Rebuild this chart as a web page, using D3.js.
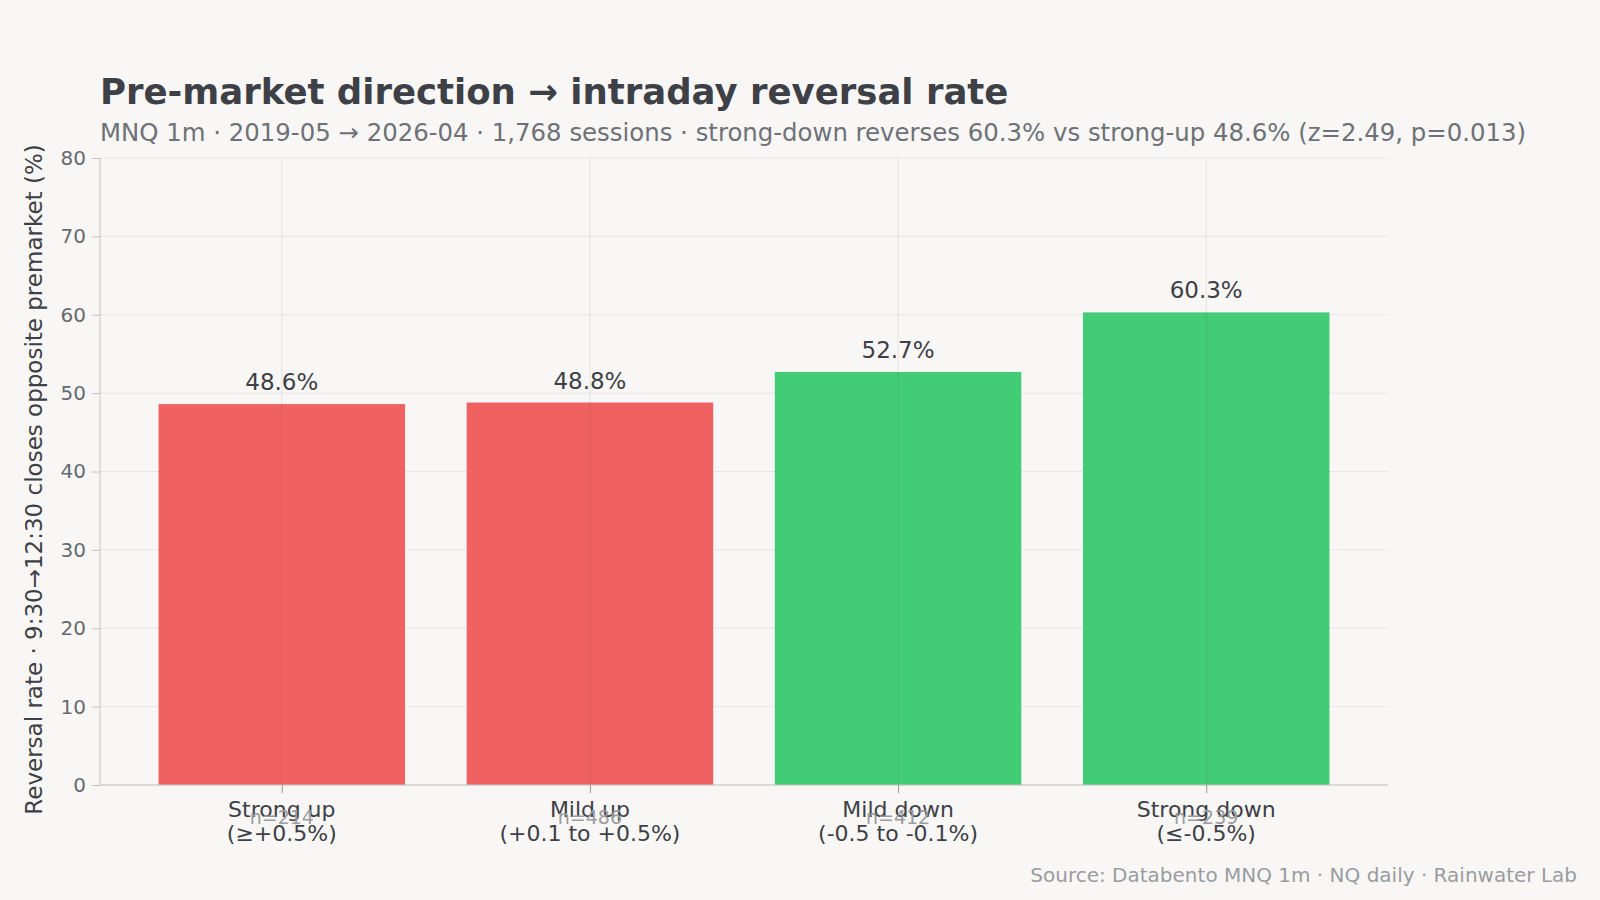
<!DOCTYPE html>
<html>
<head>
<meta charset="utf-8">
<script src="https://cdn.jsdelivr.net/npm/d3@7"></script>
<style>
  body { margin: 0; background: #f8f7f5; font-family: "DejaVu Sans", sans-serif; }
</style>
</head>
<body>
<svg id="chart" width="1600" height="900"></svg>
<script>
// chart data
var categories = ["Strong up", "Mild up", "Mild down", "Strong down"];
var ranges = ["(≥+0.5%)", "(+0.1 to +0.5%)", "(-0.5 to -0.1%)", "(≤-0.5%)"];
var rates = [48.6, 48.8, 52.7, 60.3];
var counts = [214, 486, 412, 239];
var barColors = ["#f06262", "#f06262", "#43cc76", "#43cc76"];
var yTicks = [0, 10, 20, 30, 40, 50, 60, 70, 80];

var svg = d3.select("#chart");
var plotLeft = 100, plotRight = 1388, plotTop = 158, plotBottom = 785;

var x = d3.scaleLinear().domain([-0.59, 3.59]).range([plotLeft, plotRight]);
var y = d3.scaleLinear().domain([0, 80]).range([plotBottom, plotTop]);

// grid
svg.selectAll(".hgrid").data(yTicks).enter().append("line")
  .attr("x1", plotLeft).attr("x2", plotRight)
  .attr("y1", d => y(d)).attr("y2", d => y(d))
  .attr("stroke", "#e8e7e5").attr("stroke-width", 1);

// bars
svg.selectAll(".bar").data(rates).enter().append("rect")
  .attr("x", (d, i) => x(i - 0.4))
  .attr("width", x(0.8) - x(0))
  .attr("y", d => y(d))
  .attr("height", d => plotBottom - y(d))
  .attr("fill", (d, i) => barColors[i]);

// vertical grid at categories, faint over bars
svg.selectAll(".vgrid").data(categories).enter().append("line")
  .attr("x1", (d, i) => x(i)).attr("x2", (d, i) => x(i))
  .attr("y1", plotTop).attr("y2", plotBottom)
  .attr("stroke", "#000").attr("stroke-opacity", 0.08);

// value labels
svg.selectAll(".val").data(rates).enter().append("text")
  .attr("x", (d, i) => x(i)).attr("y", d => y(d) - 14)
  .attr("text-anchor", "middle").attr("font-size", 23).attr("fill", "#3d4046")
  .text(d => d.toFixed(1) + "%");

// axes
var yAxis = svg.append("g").attr("transform", "translate(" + plotLeft + ",0)")
  .call(d3.axisLeft(y).tickValues(yTicks).tickSize(8).tickPadding(6));
yAxis.select(".domain").attr("stroke", "#c4c4c4").attr("d", "M0," + plotBottom + "V" + plotTop);
yAxis.selectAll(".tick line").attr("stroke", "#c4c4c4");
yAxis.selectAll("text").attr("font-size", 20).attr("fill", "#666a70").attr("font-family", "DejaVu Sans");

var xAxis = svg.append("g").attr("transform", "translate(0," + plotBottom + ")")
  .call(d3.axisBottom(x).tickValues([0, 1, 2, 3]).tickSize(8).tickFormat(""));
xAxis.select(".domain").attr("stroke", "#c4c4c4").attr("d", "M" + plotLeft + ",0H" + plotRight);
xAxis.selectAll(".tick line").attr("stroke", "#999");

// category labels with n counts
categories.forEach(function (c, i) {
  var t = svg.append("text").attr("text-anchor", "middle")
    .attr("font-size", 22).attr("fill", "#3d4046");
  t.append("tspan").attr("x", x(i)).attr("y", plotBottom + 32).text(c);
  t.append("tspan").attr("x", x(i)).attr("y", plotBottom + 56).text(ranges[i]);
  svg.append("text").attr("x", x(i)).attr("y", plotBottom + 39)
    .attr("text-anchor", "middle").attr("font-size", 19).attr("fill", "#9a9ca0")
    .text("n=" + counts[i]);
});

// y label
svg.append("text")
  .attr("transform", "translate(42," + ((plotTop + plotBottom) / 2 + 8) + ") rotate(-90)")
  .attr("text-anchor", "middle").attr("font-size", 23).attr("fill", "#3d4046")
  .text("Reversal rate · 9:30→12:30 closes opposite premarket (%)");

// titles
svg.append("text").attr("x", plotLeft).attr("y", 104)
  .attr("font-size", 35.5).attr("font-weight", "bold").attr("fill", "#3d4046")
  .text("Pre-market direction → intraday reversal rate");
svg.append("text").attr("x", plotLeft).attr("y", 141)
  .attr("font-size", 24.4).attr("fill", "#6e7177")
  .text("MNQ 1m · 2019-05 → 2026-04 · 1,768 sessions · strong-down reverses 60.3% vs strong-up 48.6% (z=2.49, p=0.013)");

// source
svg.append("text").attr("x", 1577).attr("y", 882).attr("text-anchor", "end")
  .attr("font-size", 20).attr("fill", "#9a9ca0")
  .text("Source: Databento MNQ 1m · NQ daily · Rainwater Lab");
</script>
</body>
</html>
